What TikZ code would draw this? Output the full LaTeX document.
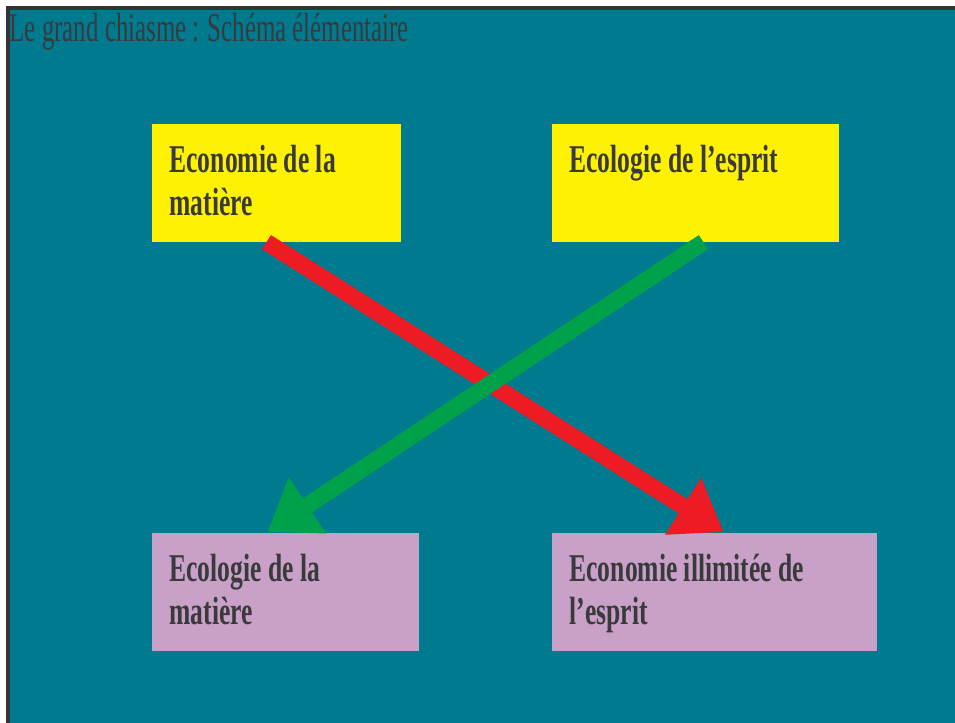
\documentclass[tikz,border=0pt]{standalone}
\usepackage{fontspec}
\setmainfont{Liberation Serif}
\newfontfamily\narrowserif[FakeStretch=0.65]{Liberation Serif}
\newfontfamily\titleserif[FakeStretch=0.61]{Liberation Serif}
\usepackage{tikz}
\usetikzlibrary{positioning,arrows.meta,calc}
\definecolor{fondbleu}{RGB}{0,122,143}
\definecolor{cadre}{RGB}{51,51,56}
\definecolor{jaune}{RGB}{255,242,0}
\definecolor{mauve}{RGB}{200,160,200}
\definecolor{rouge}{RGB}{237,28,36}
\definecolor{vert}{RGB}{0,161,75}
\definecolor{encre}{RGB}{58,58,60}
\tikzset{every picture/.style={thick}}
\tikzset{boite/.style={rectangle,inner sep=0pt,minimum height=2.95cm,anchor=north west}}
\tikzset{texteboite/.style={anchor=north west,inner sep=0pt,align=left,text=encre,
    font=\narrowserif\bfseries\fontsize{28}{30.6}\selectfont}}
\tikzset{fleche/.style={line width=0.42cm,-{Triangle[length=1.2cm,width=1.6cm]}}}

\begin{document}
\begin{tikzpicture}
      \useasboundingbox (0,0) rectangle (23.875,-18.075);
      \fill[fondbleu] (0.2,-0.2) rectangle (23.875,-18.075);
      \draw[cadre,line width=2.2pt] (0.2,-18.075) -- (0.2,-0.2) -- (23.875,-0.2);
      \node[anchor=base west,inner sep=0pt,text=encre,font=\titleserif\fontsize{29}{30}\selectfont]
        (titre) at (0.23,-1.05) {Le grand chiasme : Schéma élémentaire};
      % les quatre boites
      \node[boite,fill=jaune,minimum width=6.225cm] (ecomat) at (3.775,-3.075) {};
      \node[boite,fill=jaune,minimum width=7.175cm] (ecoesp) at (13.775,-3.075) {};
      \node[boite,fill=mauve,minimum width=6.675cm] (ecolmat) at (3.775,-13.3) {};
      \node[boite,fill=mauve,minimum width=8.125cm] (ecoilesp) at (13.775,-13.3) {};
      \node[texteboite] (t1) at ($(ecomat.north west)+(0.45,-0.55)$) {Economie de la\\matière};
      \node[texteboite] (t2) at ($(ecoesp.north west)+(0.45,-0.55)$) {Ecologie de l’esprit};
      \node[texteboite] (t3) at ($(ecolmat.north west)+(0.45,-0.55)$) {Ecologie de la\\matière};
      \node[texteboite] (t4) at ($(ecoilesp.north west)+(0.45,-0.55)$) {Economie illimitée de\\l’esprit};
      % le chiasme
      \draw[fleche,rouge] ([xshift=-0.24cm]ecomat.south) -- ([xshift=0.24cm]ecoilesp.north);
      \draw[fleche,vert] ([xshift=0.21cm]ecoesp.south) -- ([xshift=-0.44cm]ecolmat.north);
\end{tikzpicture}
\end{document}
